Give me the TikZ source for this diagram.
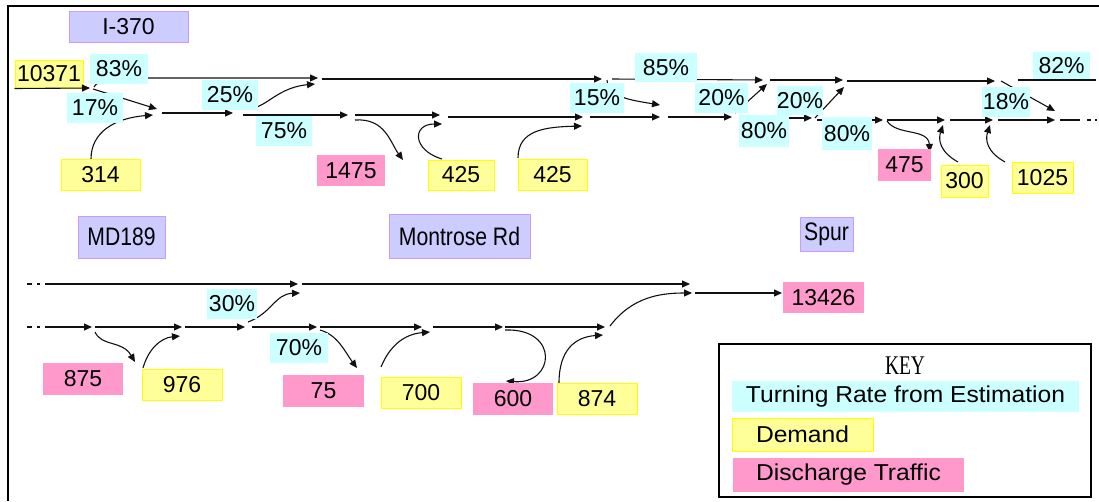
\documentclass[tikz,border=0pt]{standalone}
\usepackage{fontspec}
\setmainfont{Liberation Sans}
\newfontfamily\keyserif{Liberation Serif}
\usetikzlibrary{arrows.meta}
\definecolor{cyanfill}{HTML}{CCFFFF}
\definecolor{yelfill}{HTML}{FFFF99}
\definecolor{yeldraw}{HTML}{FFFF00}
\definecolor{pinkfill}{HTML}{FF99CC}
\definecolor{purfill}{HTML}{CCCCFF}
\definecolor{purdraw}{HTML}{CC99FF}
\definecolor{linec}{HTML}{111111}
\pgfdeclarelayer{background}
\pgfsetlayers{background,main}
\newcommand\bx[7]{\node[#1, minimum width=#5pt, minimum height=#6pt] (#2) at (#3,#4) {#7};}
\begin{document}
\begin{tikzpicture}[x=1pt,y=-1pt,
  lbl/.style={inner sep=0pt, font=\fontsize{23}{25}\selectfont, text=black},
  rate/.style={lbl, fill=cyanfill},
  demand/.style={lbl, fill=yelfill, draw=yeldraw, line width=1pt},
  discharge/.style={lbl, fill=pinkfill},
  road/.style={lbl, fill=purfill, draw=purdraw, line width=1pt},
  keytxt/.style={font=\fontsize{23}{25}\selectfont},
  flow/.style={draw=linec, line width=1.1pt, -{Triangle[length=8pt,width=7pt]}},
  plain/.style={draw=linec, line width=1.1pt},
]
\useasboundingbox (0,0) rectangle (1099,501);

% frame
\coordinate (fbl) at (8,501);
\coordinate (ftl) at (8,6);
\coordinate (ftr) at (1099,6);
\draw[line width=2.5pt] (fbl) -- (ftl) -- (ftr);

% boxes
\bx{road}{i370}{128.5}{26.5}{119}{31}{I-370}
\bx{demand}{n10371}{49}{74}{68}{28}{10371}
\bx{rate}{p83}{119}{69}{58}{30}{83\%}
\bx{rate}{p17}{95}{108}{56}{30}{17\%}
\bx{rate}{p25}{230}{95}{56}{30}{25\%}
\bx{rate}{p75}{284}{131}{56}{30}{75\%}
\bx{demand}{n314}{100.5}{174.5}{79}{31}{314}
\bx{discharge}{n1475}{351}{170.5}{68}{31}{1475}
\bx{demand}{n425a}{461}{175}{66}{30}{425}
\bx{demand}{n425b}{552.5}{174.5}{69}{31}{425}
\bx{rate}{p85}{666}{67.5}{62}{29}{85\%}
\bx{rate}{p15}{597}{98}{54}{30}{15\%}
\bx{rate}{p20a}{721.5}{98}{53}{30}{20\%}
\bx{rate}{p80a}{764}{131}{50}{32}{80\%}
\bx{rate}{p20b}{800}{100.5}{46}{29}{20\%}
\bx{rate}{p80b}{847}{133.5}{50}{33}{80\%}
\bx{discharge}{n475}{904.5}{165}{53}{32}{475}
\bx{demand}{n300}{964.5}{181}{47}{32}{300}
\bx{demand}{n1025}{1042.5}{177.5}{61}{31}{1025}
\bx{rate}{p18}{1006}{102}{48}{30}{18\%}
\bx{rate}{p82}{1061.5}{65.5}{57}{27}{82\%}
\bx{road}{md189}{121.5}{237}{87}{42}{\scalebox{0.92}[1.1]{MD189}}
\bx{road}{montrose}{459.5}{236}{141}{44}{\scalebox{0.92}[1.1]{Montrose Rd}}
\bx{road}{spur}{826.5}{234}{53}{34}{\scalebox{0.92}[1.1]{Spur}}
\bx{discharge}{n875}{83}{379}{80}{32}{875}
\bx{demand}{n976}{182}{384.5}{80}{31}{976}
\bx{rate}{p30}{232}{304}{50}{30}{30\%}
\bx{rate}{p70}{299}{348}{58}{30}{70\%}
\bx{discharge}{n75}{323.5}{391}{81}{32}{75}
\bx{demand}{n700}{421}{392.5}{80}{31}{700}
\bx{discharge}{n600}{513}{399}{80}{32}{600}
\bx{demand}{n874}{597}{398.5}{80}{31}{874}
\bx{discharge}{n13426}{823.5}{297.5}{81}{31}{13426}

% key
\node[draw, line width=2pt, minimum width=372pt, minimum height=153pt, inner sep=0pt] (key) at (905,420.5) {};
\node[font=\keyserif\fontsize{27}{29}\selectfont, inner sep=0pt] (keyt) at (905,366) {\scalebox{0.72}[1]{KEY}};
\node[keytxt, fill=cyanfill, minimum width=347pt, minimum height=31pt, inner sep=0pt] (k1) at (905.5,396.5) {\scalebox{1.07}[1]{Turning Rate from Estimation}};
\node[keytxt, fill=yelfill, draw=yeldraw, line width=1pt, minimum width=141pt, minimum height=33pt, inner sep=0pt] (k2) at (802.5,434.5) {\scalebox{1.07}[1]{Demand}};
\node[keytxt, fill=pinkfill, minimum width=231pt, minimum height=34pt, inner sep=0pt] (k3) at (848.5,475) {\scalebox{1.07}[1]{Discharge Traffic}};

% coordinates
\foreach \n/\x/\y in {
  t0/90/88, a83s/94/87, a83m/130/78, u1/318/78, a17s/93/89, L1/157/109,
  a314/91/159, L1b/153/115, L2s/162/113, L2e/233/113, L3s/243/115, L3e/348/115,
  a25s/242/106, a25e/315/84, U2s/322/79, U2e/602/79,
  a1475s/355/120, a1475e/403/160, L4s/355/115, L4e/440/115,
  a425as/442/159, a425ae/442/124, L5s/448/117, L5e/583/117,
  a425bs/518/158, a425be/582/126, L6s/590/117, L6e/660/117,
  a15s/607/80, a15e/660/105, U3s/612/79, U3e/763/80,
  L7s/668/117, L7e/732/117, a20as/735/113, a20ae/767/84,
  U4s/770/80, U4e/843/80, L8s/740/118, L8e/812/118,
  a20bs/815/118, a20be/844/87, U5s/847/81, U5e/995/81,
  L9s/817/120, L9e/883/120, a475s/887/121, a475e/930/152,
  L10s/887/120, L10e/945/120, a300s/958/162, a300e/943/125,
  L11s/950/120, L11e/993/120, a1025s/1005/162, a1025e/990/125,
  L12s/998/120, L12e/1055/120, a18s/1001/81, a18e/1055/111,
  U6s/1018/80, U6e/1096/80, T1s/1060/120, T1e/1099/120,
  B1a/27/284, B1b/45/284, B1e/298/284, B2s/302/284, B2e/690/284,
  C0a/27/327, C0b/45/327, C1e/92/327, C2s/95/327, C2e/182/327,
  a875s/95/332, a875e/135/362, a976s/143/368, a976e/180/336,
  C3s/185/327, C3e/245/327, C4s/252/327, C4e/317/327,
  a30s/248/322, a30e/300/293, a70s/320/330, a70e/357/368,
  C5s/320/327, C5e/422/327, a700s/381/367, a700e/430/332,
  C6s/433/327, C6e/503/327, a600s/505/330, a600e/506/381,
  C7s/505/327, C7e/605/327, a874s/559/383, a874e/603/335,
  amgs/610/326, amge/692/293, D1s/695/293, D1e/782/293}
  \coordinate (\n) at (\x,\y);

\begin{pgfonlayer}{background}
\foreach \s/\e in {a17s/L1, L2s/L2e, L3s/L3e, U2s/U2e, L4s/L4e, L5s/L5e,
  L6s/L6e, U3s/U3e, L7s/L7e, a20as/a20ae, U4s/U4e, L8s/L8e, a20bs/a20be,
  U5s/U5e, L9s/L9e, L10s/L10e, L11s/L11e, L12s/L12e, a18s/a18e,
  B1b/B1e, B2s/B2e, C0b/C1e, C2s/C2e, C3s/C3e, C4s/C4e, C5s/C5e,
  C6s/C6e, C7s/C7e, D1s/D1e}
  \draw[flow] (\s) -- (\e);
\draw[flow] (a83s) .. controls (98,80) and (110,78) .. (a83m) -- (u1);
\draw[flow] (a314) .. controls (91,132) and (115,118) .. (L1b);
\draw[flow] (a25s) .. controls (262,116) and (272,88) .. (a25e);
\draw[flow] (a1475s) .. controls (385,118) and (390,142) .. (a1475e);
\draw[flow] (a425as) .. controls (412,150) and (412,124) .. (a425ae);
\draw[flow] (a425bs) .. controls (518,130) and (545,127) .. (a425be);
\draw[flow] (a15s) .. controls (608,97) and (630,100) .. (a15e);
\draw[flow] (a475s) .. controls (897,136) and (928,128) .. (a475e);
\draw[flow] (a300s) .. controls (940,152) and (938,140) .. (a300e);
\draw[flow] (a1025s) .. controls (987,152) and (985,140) .. (a1025e);
\draw[plain] (U6s) -- (U6e);
\draw[plain, dash pattern=on 20pt off 7pt on 4pt off 4pt on 2pt off 10pt] (T1s) -- (T1e);
\draw[plain, dash pattern=on 5pt off 5pt on 3pt off 10pt] (B1a) -- (B1b);
\draw[plain, dash pattern=on 5pt off 5pt on 3pt off 10pt] (C0a) -- (C0b);
\draw[flow] (a875s) .. controls (102,347) and (122,340) .. (a875e);
\draw[flow] (a976s) .. controls (148,350) and (160,338) .. (a976e);
\draw[flow] (a30s) .. controls (272,313) and (275,294) .. (a30e);
\draw[flow] (a70s) .. controls (338,335) and (345,352) .. (a70e);
\draw[flow] (a700s) .. controls (390,345) and (405,334) .. (a700e);
\draw[flow] (a600s) .. controls (560,328) and (555,385) .. (a600e);
\draw[flow] (a874s) .. controls (559,350) and (575,337) .. (a874e);
\draw[flow] (amgs) .. controls (632,297) and (660,293) .. (amge);
\end{pgfonlayer}

\draw[flow] (n10371.south west) -- (t0);
\end{tikzpicture}
\end{document}
